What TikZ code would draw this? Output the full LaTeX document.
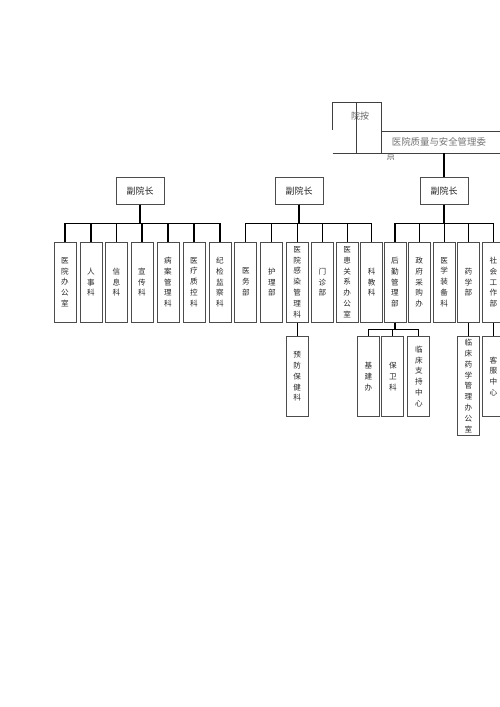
\documentclass[tikz,border=0pt]{standalone}
\usepackage{fontspec}
\newfontfamily\cjk{Noto Sans CJK SC}

\begin{document}
\begin{tikzpicture}[x=1pt,y=-1pt,
    dept/.style={draw=black!70, line width=0.9pt, minimum width=22pt, minimum height=80pt,
      inner sep=0pt, anchor=north, align=center, text=black!85,
      font=\cjk\fontsize{7.6}{10.9}\selectfont},
    head/.style={draw=black!70, line width=0.9pt, minimum width=48pt, minimum height=26.5pt,
      inner sep=0pt, anchor=north, text=black!85, font=\cjk\fontsize{9}{11}\selectfont},
    frame/.style={line width=0.7pt, black!75},
    link/.style={line width=1.1pt}]
  \useasboundingbox (0,0) rectangle (500,707);

  % top frame
  \draw[frame] (332.7,130) -- (332.7,102.5) -- (381.7,102.5) -- (381.7,153);
  \draw[frame] (356.7,102.5) -- (356.7,153);
  \draw[frame] (381.7,131.5) -- (500,131.5);
  \draw[frame] (332.7,153) -- (500,153);
  \node[text=black!60, font=\cjk\fontsize{9}{11}\selectfont] (dean) at (360,116) {院按};
  \node[anchor=west, inner sep=0pt, text=black!55, font=\cjk\fontsize{9.4}{11}\selectfont] (qc) at (391.7,141.5) {医院质量与安全管理委};
  \begin{scope}
    \clip (383,154.5) rectangle (400,159.5);
    \node[anchor=north west, inner sep=0pt, text=black!55, font=\cjk\fontsize{9.4}{11}\selectfont] (qcb) at (386,155) {员};
  \end{scope}
  \coordinate (qcbar) at (444,153);

  \node[head] (vp1) at (140,177.3) {副院长};
  \node[head] (vp2) at (299,177.3) {副院长};
  \node[head] (vp3) at (444,177.3) {副院长};
  \draw[link] (qcbar) -- (vp3.north);

  \foreach \n/\x/\t in {a1/65/医\\院\\办\\公\\室, a2/91/人\\事\\科, a3/116.5/信\\息\\科,
      a4/142/宣\\传\\科, a5/168/病\\案\\管\\理\\科, a6/194/医\\疗\\质\\控\\科, a7/220/纪\\检\\监\\察\\科,
      b1/245.9/医\\务\\部, b2/271.9/护\\理\\部, b3/297.2/医\\院\\感\\染\\管\\理\\科,
      b4/322.5/门\\诊\\部, b5/347.2/医\\患\\关\\系\\办\\公\\室, b6/371.7/科\\教\\科,
      c1/395/后\\勤\\管\\理\\部, c2/419.2/政\\府\\采\\购\\办, c3/444.2/医\\学\\装\\备\\科,
      c4/468.3/药\\学\\部, c5/493.3/社\\会\\工\\作\\部}
    \node[dept] (\n) at (\x,241.7) {\t};

  \foreach \n in {a1,a2,a3,a4,a5,a6,a7}
    \draw[link] (vp1.south) -- ++(0,18.5) -| (\n.north);
  \foreach \n in {b1,b2,b3,b4,b5,b6}
    \draw[link] (vp2.south) -- ++(0,18.5) -| (\n.north);
  \foreach \n in {c1,c2,c3,c4,c5}
    \draw[link] (vp3.south) -- ++(0,18.5) -| (\n.north);

  \node[dept] (s1) at (297.2,336) {预\\防\\保\\健\\科};
  \node[dept] (t1) at (368.5,336) {基\\建\\办};
  \node[dept] (t2) at (392.8,336) {保\\卫\\科};
  \node[dept] (t3) at (418.8,336) {临\\床\\支\\持\\中\\心};
  \node[dept, minimum height=99pt] (u1) at (468.3,336) {临\\床\\药\\学\\管\\理\\办\\公\\室};
  \node[dept] (v1) at (493.3,336) {客\\服\\中\\心};

  \draw[link] (b3.south) -- (s1.north);
  \foreach \n in {t1,t2,t3}
    \draw[link] (c1.south) -- ++(0,6.6) -| (\n.north);
  \draw[link] (c4.south) -- (u1.north);
  \draw[link] (c5.south) -- (v1.north);
\end{tikzpicture}
\end{document}
